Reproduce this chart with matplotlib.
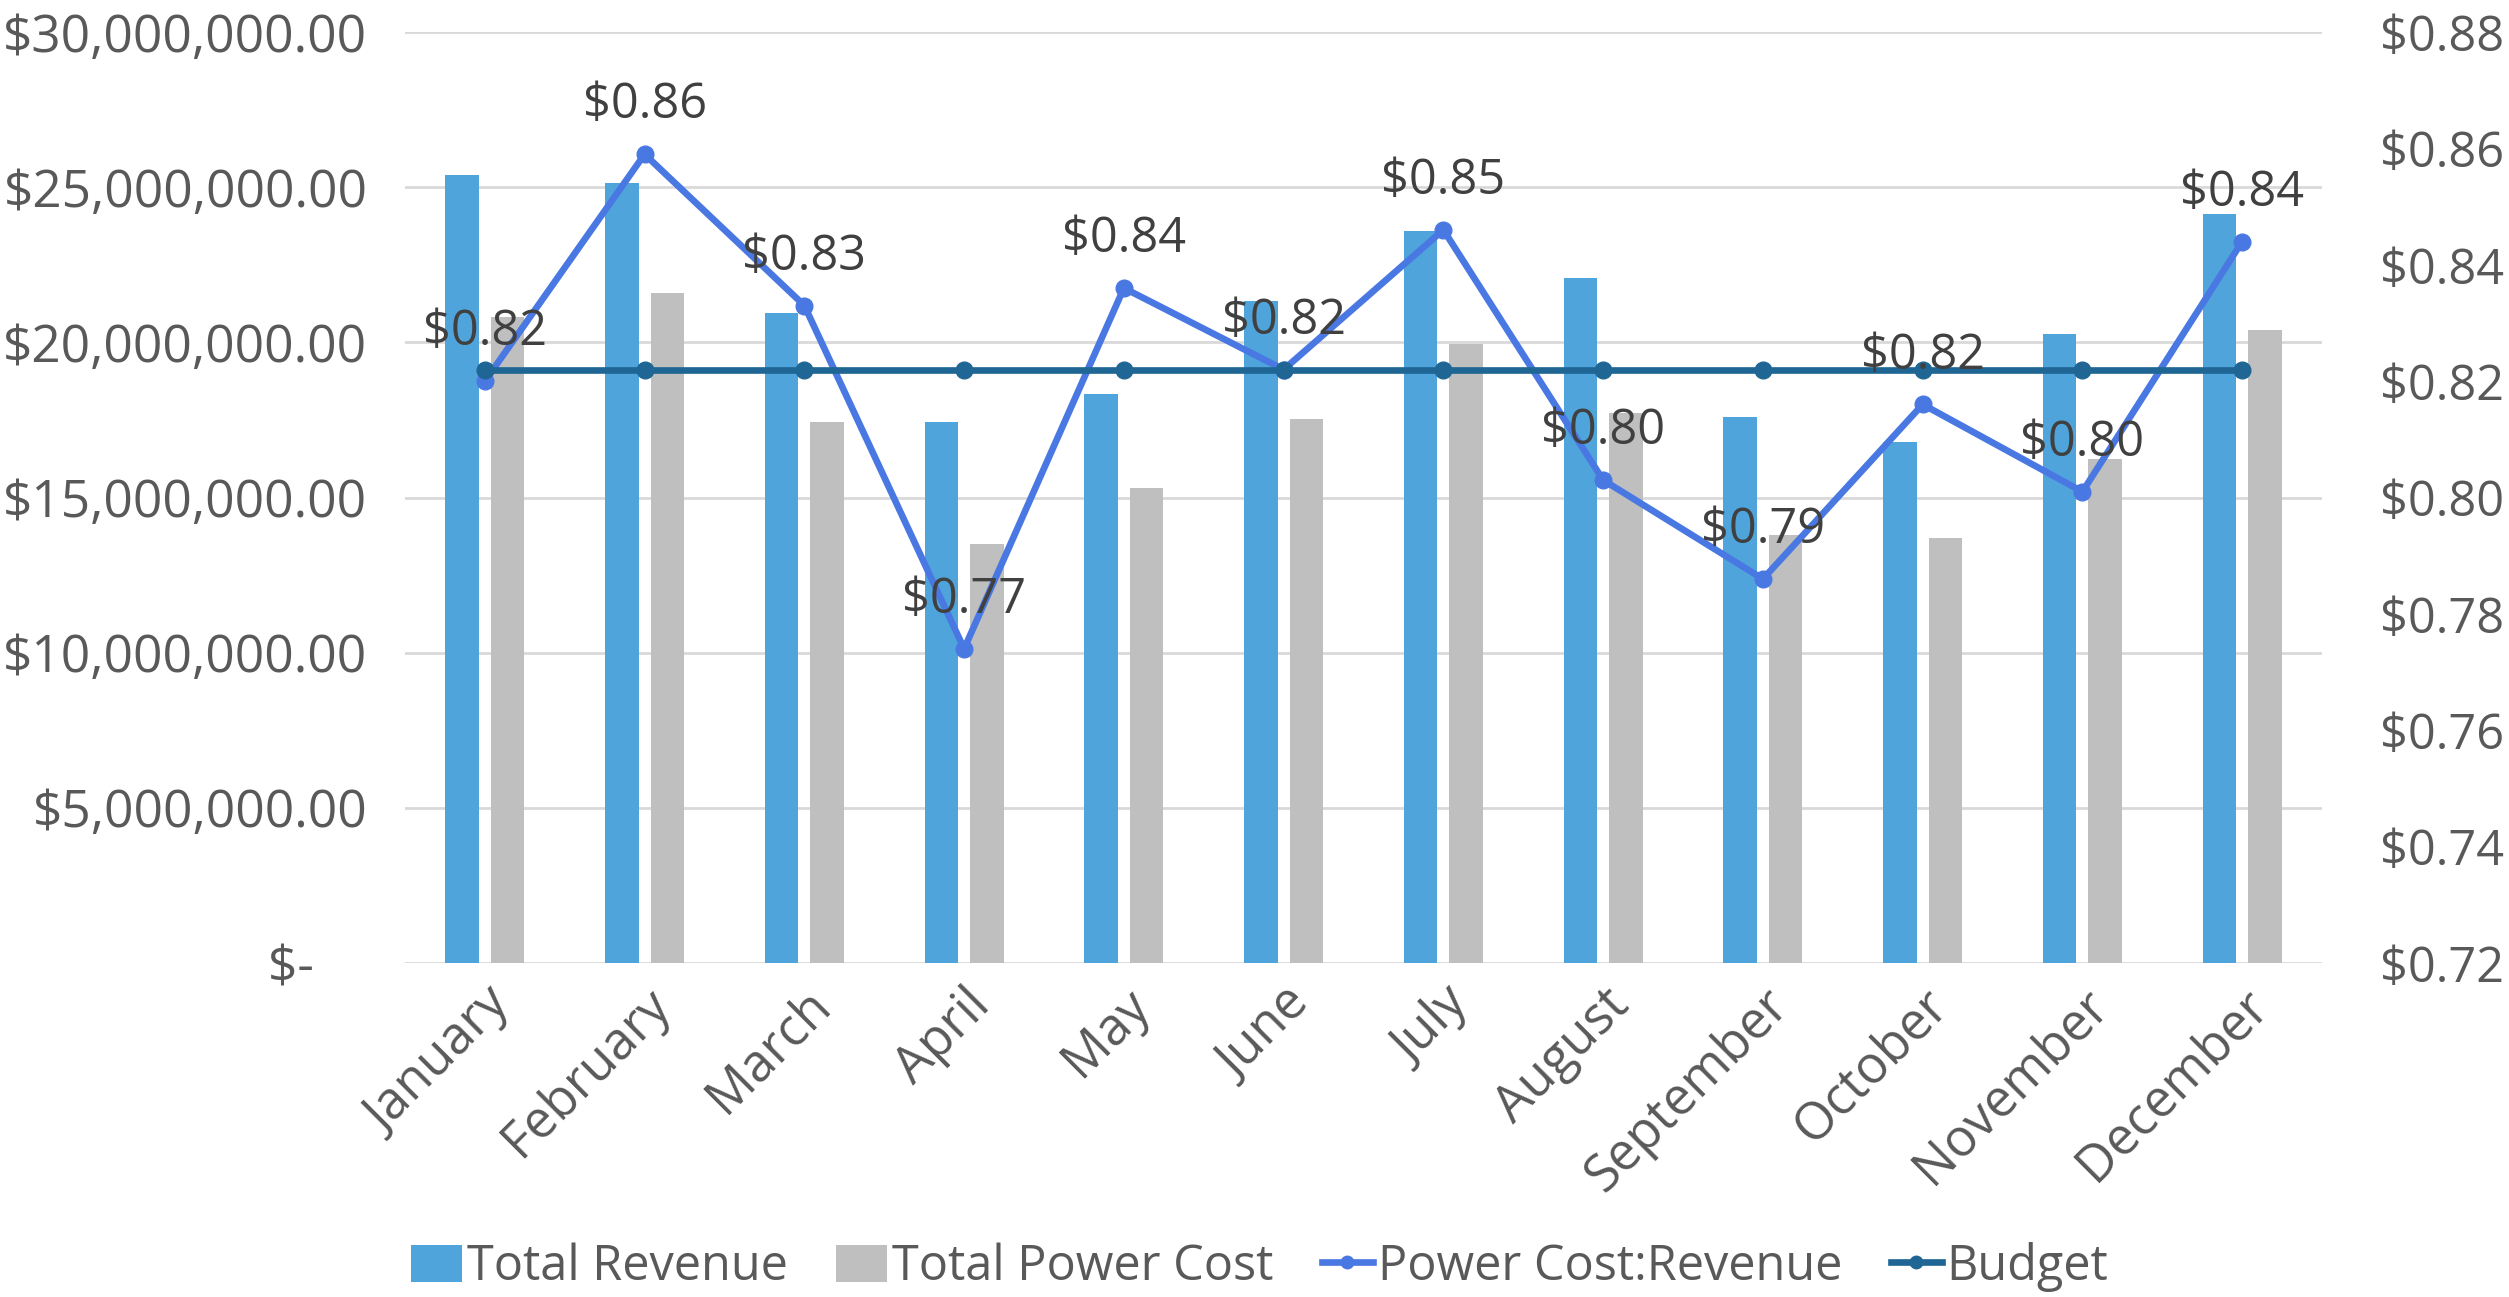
import matplotlib
matplotlib.use("Agg")
import matplotlib.pyplot as plt
import numpy as np
from matplotlib.lines import Line2D
from matplotlib.patches import Patch

months = ["January", "February", "March", "April", "May", "June", "July",
          "August", "September", "October", "November", "December"]
total_revenue = [25.39e6, 25.13e6, 20.94e6, 17.44e6, 18.33e6, 21.33e6, 23.59e6,
                 22.07e6, 17.59e6, 16.78e6, 20.26e6, 24.15e6]
total_power_cost = [20.81e6, 21.59e6, 17.44e6, 13.50e6, 15.31e6, 17.52e6, 19.94e6,
                    17.72e6, 13.80e6, 13.69e6, 16.24e6, 20.39e6]
cost_ratio = [0.820, 0.859, 0.833, 0.774, 0.836, 0.822, 0.846, 0.803, 0.786,
              0.816, 0.801, 0.844]
budget = [0.822] * 12
left_ticks = [0, 5e6, 10e6, 15e6, 20e6, 25e6, 30e6]
right_ticks = [0.72, 0.74, 0.76, 0.78, 0.80, 0.82, 0.84, 0.86, 0.88]

FONT = "Open Sans"
plt.rcParams['font.family'] = [FONT, 'DejaVu Sans']

C_REV = "#4FA5DB"
C_COST = "#BFBFBF"
C_RATIO = "#4A78E3"
C_BUDGET = "#1F6694"
C_TICK = "#595959"
C_LABEL = "#404040"
FS = 37
LW = 4.8
MS = 12

fig = plt.figure(figsize=(25.09, 12.97), dpi=100)
ax = fig.add_axes([0.1614, 0.2575, 0.9255 - 0.1614, 0.9753 - 0.2575])
x = np.arange(len(months))
w = 0.21
off = 0.1425
ax.bar(x - off, total_revenue, width=w, color=C_REV, zorder=2)
ax.bar(x + off, total_power_cost, width=w, color=C_COST, zorder=2)
ax.set_xlim(-0.5, len(months) - 0.5)
ax.set_ylim(0, 30e6)
ax.set_yticks(left_ticks)
ax.set_yticklabels(["$-    " if v == 0 else f"${v:,.2f}" for v in left_ticks])
ax.yaxis.grid(True, color="#D9D9D9", linewidth=2, zorder=0)
ax.set_axisbelow(True)
for s in ax.spines.values():
    s.set_visible(False)
ax.tick_params(axis='y', length=0, pad=27, labelsize=FS, labelcolor=C_TICK)
ax.tick_params(axis='x', length=0, pad=12, labelsize=FS, labelcolor=C_TICK)
ax.set_xticks(x)
ax.set_xticklabels(months, rotation=45, ha='right', va='top', rotation_mode='anchor')

ax2 = ax.twinx()
ax2.set_ylim(0.72, 0.88)
ax2.set_yticks(right_ticks)
ax2.set_yticklabels([f"${v:.2f}" for v in right_ticks])
ax2.tick_params(axis='y', length=0, pad=42, labelsize=FS - 2, labelcolor=C_TICK)
for s in ax2.spines.values():
    s.set_visible(False)
ax2.plot(x, cost_ratio, color=C_RATIO, linewidth=LW, marker='o', markersize=MS, zorder=3)
ax2.plot(x, budget, color=C_BUDGET, linewidth=LW, marker='o', markersize=MS, zorder=4)
for xi, v in zip(x, cost_ratio):
    ax2.annotate(f"${v:.2f}", (xi, v), xytext=(0, 35), textcoords='offset points',
                 ha='center', va='center', fontsize=FS - 2, color=C_LABEL, zorder=5)

handles = [Patch(facecolor=C_REV), Patch(facecolor=C_COST),
           Line2D([], [], color=C_RATIO, linewidth=LW, marker='o', markersize=MS - 3),
           Line2D([], [], color=C_BUDGET, linewidth=LW, marker='o', markersize=MS - 3)]
labels = ["Total Revenue", "Total Power Cost", "Power Cost:Revenue", "Budget"]
fig.legend(handles, labels, loc='center', bbox_to_anchor=(0.502, 1 - 1267 / 1297),
           ncol=4, frameon=False, fontsize=FS - 2, labelcolor=C_TICK,
           handlelength=1.05, handletextpad=0.1, columnspacing=1.0, handleheight=0.8)

fig.savefig("out.png", dpi=100)
